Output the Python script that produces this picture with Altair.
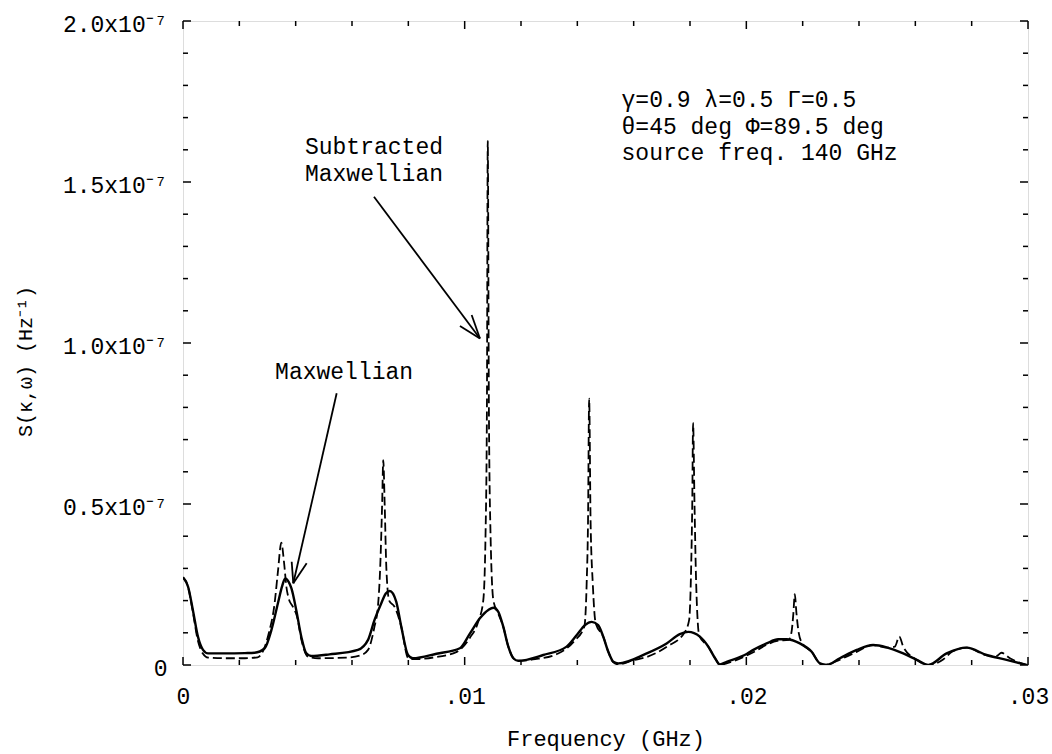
import altair as alt
import pandas as pd

# ---------------- data (y in units of 1e-7 Hz^-1, x in GHz) ----------------
maxw_x = [0.0, 0.00018, 0.00035, 0.00053, 0.00071, 0.00089, 0.0015, 0.0022, 0.00254, 0.0029,
          0.00314, 0.00337, 0.00352, 0.00363, 0.00375, 0.00385, 0.00402, 0.0042, 0.00438, 0.00455,
          0.0052, 0.00621, 0.00657, 0.0068, 0.00704, 0.0072, 0.00734, 0.00757, 0.00775, 0.00799,
          0.00816, 0.0090, 0.00983, 0.01019, 0.01054, 0.01084, 0.01102, 0.01119, 0.01137, 0.01155,
          0.01173, 0.0119, 0.01279, 0.01362, 0.01398, 0.01427, 0.01451, 0.01474, 0.01492, 0.0151,
          0.01528, 0.01545, 0.01646, 0.01717, 0.01764, 0.01794, 0.01835, 0.01865, 0.01889, 0.01906,
          0.0193, 0.02001, 0.02025, 0.02072, 0.02113, 0.02143, 0.0219, 0.02232, 0.02261, 0.02285,
          0.02332, 0.02392, 0.0245, 0.02498, 0.02557, 0.02605, 0.02646, 0.02711, 0.02782, 0.02853,
          0.02924, 0.02995]
maxw_y = [0.272, 0.243, 0.171, 0.088, 0.047, 0.036, 0.036, 0.037, 0.038, 0.052,
          0.109, 0.192, 0.245, 0.269, 0.258, 0.238, 0.171, 0.088, 0.036, 0.028,
          0.033, 0.047, 0.078, 0.14, 0.192, 0.222, 0.23, 0.197, 0.119, 0.031,
          0.021, 0.035, 0.052, 0.098, 0.145, 0.171, 0.178, 0.166, 0.119, 0.057,
          0.021, 0.013, 0.031, 0.057, 0.093, 0.124, 0.134, 0.124, 0.088, 0.041,
          0.01, 0.005, 0.036, 0.067, 0.096, 0.103, 0.088, 0.057, 0.021, 0.002,
          0.01, 0.034, 0.047, 0.067, 0.08, 0.08, 0.067, 0.041, 0.005, 0.0,
          0.021, 0.047, 0.062, 0.055, 0.036, 0.016, 0.0, 0.036, 0.054, 0.031,
          0.016, 0.0]

sub_x = [0.0, 0.00018, 0.00035, 0.00053, 0.00071, 0.00089, 0.0015, 0.0022, 0.00265, 0.00285,
         0.00305, 0.00325, 0.00337, 0.00349, 0.00359, 0.00367, 0.00375, 0.0039, 0.00405, 0.0042,
         0.00444, 0.0048, 0.0058, 0.0063, 0.00657, 0.0068, 0.00692, 0.0070, 0.00707, 0.00711,
         0.00716, 0.00722, 0.00732, 0.00751, 0.00775, 0.00799, 0.0082, 0.0090, 0.0097, 0.01019,
         0.01048, 0.01066, 0.01074, 0.01079, 0.01082, 0.01086, 0.01092, 0.01102, 0.01119, 0.01137,
         0.01155, 0.01173, 0.0119, 0.0125, 0.0133, 0.0139, 0.01425, 0.01433, 0.01438, 0.01442,
         0.01447, 0.01455, 0.01465, 0.01492, 0.0151, 0.01528, 0.01545, 0.0160, 0.0165, 0.0172,
         0.0178, 0.01797, 0.01804, 0.01808, 0.01811, 0.01816, 0.01822, 0.01833, 0.01865, 0.01889,
         0.01906, 0.0193, 0.0199, 0.0203, 0.0207, 0.0211, 0.0215, 0.0216, 0.02167, 0.02172,
         0.02178, 0.02186, 0.0220, 0.02232, 0.02261, 0.0228, 0.0232, 0.0239, 0.0245, 0.0250,
         0.02527, 0.02543, 0.02557, 0.02605, 0.02646, 0.0270, 0.0273, 0.02782, 0.0285, 0.02888,
         0.02906, 0.02936, 0.02995]
sub_y = [0.272, 0.243, 0.165, 0.075, 0.035, 0.023, 0.021, 0.021, 0.024, 0.045,
         0.10, 0.19, 0.29, 0.38, 0.316, 0.243, 0.207, 0.181, 0.15, 0.08,
         0.026, 0.021, 0.023, 0.03, 0.047, 0.12, 0.181, 0.30, 0.50, 0.636,
         0.50, 0.30, 0.20, 0.181, 0.119, 0.022, 0.018, 0.025, 0.040, 0.085,
         0.134, 0.20, 0.40, 0.80, 1.628, 0.80, 0.40, 0.20, 0.16, 0.119,
         0.057, 0.021, 0.013, 0.018, 0.035, 0.075, 0.12, 0.25, 0.45, 0.827,
         0.45, 0.25, 0.13, 0.088, 0.041, 0.008, 0.002, 0.015, 0.026, 0.058,
         0.10, 0.14, 0.30, 0.50, 0.751, 0.50, 0.25, 0.09, 0.057, 0.021,
         0.0, 0.005, 0.025, 0.042, 0.062, 0.075, 0.078, 0.10, 0.16, 0.22,
         0.16, 0.10, 0.065, 0.041, 0.005, 0.0, 0.012, 0.040, 0.062, 0.054,
         0.057, 0.088, 0.057, 0.016, 0.0, 0.018, 0.041, 0.054, 0.031, 0.028,
         0.038, 0.021, 0.0]

x_major = [0.0, 0.01, 0.02, 0.03]
x_labels = ["0", ".01", ".02", ".03"]
x_minor = [0.002, 0.004, 0.006, 0.008, 0.012, 0.014, 0.016, 0.018, 0.022, 0.024, 0.026, 0.028]
y_major = [0.0, 0.5, 1.0, 1.5, 2.0]
y_labels = ["0", "0.5x10⁻⁷", "1.0x10⁻⁷", "1.5x10⁻⁷", "2.0x10⁻⁷"]
y_minor = [0.1, 0.2, 0.3, 0.4, 0.6, 0.7, 0.8, 0.9, 1.1, 1.2, 1.3, 1.4, 1.6, 1.7, 1.8, 1.9]

note_lines = ["γ=0.9 λ=0.5 Γ=0.5", "θ=45 deg Φ=89.5 deg", "source freq. 140 GHz"]
note_x = [0.01557, 0.01557, 0.01557]
note_y = [1.755, 1.672, 1.589]

label_text = ["Subtracted", "Maxwellian", "Maxwellian"]
label_x = [0.00433, 0.00433, 0.00327]
label_y = [1.609, 1.525, 0.911]

# arrows: shaft + two head wings each
arrow_x1 = [0.00678, 0.010543, 0.010543, 0.005456, 0.003916, 0.003916]
arrow_y1 = [1.4543, 1.0140, 1.0140, 0.8438, 0.2537, 0.2537]
arrow_x2 = [0.010543, 0.009833, 0.010248, 0.003916, 0.003859, 0.004391]
arrow_y2 = [1.0140, 1.0528, 1.0870, 0.2537, 0.3208, 0.3158]

# ---------------- chart ----------------
W, H = 845, 644
FONT = "Liberation Mono"


def label_expr(vals, labs):
    expr = "''"
    for v, l in reversed(list(zip(vals, labs))):
        expr = f"abs(datum.value - {v}) < 1e-9 ? '{l}' : ({expr})"
    return expr


xs = alt.Scale(domain=[0, 0.03], nice=False, zero=False)
ys = alt.Scale(domain=[0, 2.0], nice=False, zero=False)

xaxis = alt.Axis(values=x_major, labelExpr=label_expr(x_major, x_labels), ticks=False,
                 domain=False, grid=False, labelFont=FONT, labelFontSize=23, labelPadding=20,
                 labelFlush=False, labelColor="black", title="Frequency (GHz)", titleFont=FONT,
                 titleFontSize=22, titleFontWeight="normal", titleColor="black", titleY=80,
                 titleBaseline="alphabetic")
yaxis = alt.Axis(values=y_major, labelExpr=label_expr(y_major, y_labels), ticks=False,
                 domain=False, grid=False, labelFont=FONT, labelFontSize=23, labelPadding=16,
                 labelFlush=False, labelColor="black", labelBaseline="middle", labelOffset=3,
                 title="S(κ,ω)  (Hz⁻¹)", titleFont=FONT, titleFontSize=20,
                 titleFontWeight="normal", titleColor="black", titleX=-158, titleY=340,
                 titleAngle=270, titleAlign="center", titleBaseline="middle")


def X(f):
    return alt.X(f, type="quantitative", scale=xs, axis=xaxis)


def Y(f):
    return alt.Y(f, type="quantitative", scale=ys, axis=yaxis)


df_m = pd.DataFrame({"x": maxw_x, "y": maxw_y})
df_s = pd.DataFrame({"x": sub_x, "y": sub_y})

solid = alt.Chart(df_m).mark_line(color="black", strokeWidth=2.4, clip=True,
                                  interpolate="monotone").encode(x=X("x"), y=Y("y"))
dashed = alt.Chart(df_s).mark_line(color="black", strokeWidth=1.8, strokeDash=[9, 4],
                                   clip=True, interpolate="monotone").encode(x=X("x"), y=Y("y"))

layers = [dashed, solid]


def tick_layer(vals, side, length):
    d = pd.DataFrame({"v": vals})
    m = alt.Chart(d).mark_rule(color="black", strokeWidth=1.5)
    if side == "left":
        return m.encode(y=Y("v"), x=alt.value(0), x2=alt.value(length))
    if side == "right":
        return m.encode(y=Y("v"), x=alt.value(W - length), x2=alt.value(W))
    if side == "bottom":
        return m.encode(x=X("v"), y=alt.value(H - length), y2=alt.value(H))
    return m.encode(x=X("v"), y=alt.value(0), y2=alt.value(length))


for side in ["left", "right"]:
    layers.append(tick_layer(y_major, side, 8))
    layers.append(tick_layer(y_minor, side, 5))
for side in ["bottom", "top"]:
    layers.append(tick_layer(x_major, side, 8))
    layers.append(tick_layer(x_minor, side, 5))

df_arrow = pd.DataFrame({"x1": arrow_x1, "y1": arrow_y1, "x2": arrow_x2, "y2": arrow_y2})
arrows = alt.Chart(df_arrow).mark_rule(color="black", strokeWidth=1.8).encode(
    x=X("x1"), y=Y("y1"), x2=alt.X2("x2"), y2=alt.Y2("y2"))
layers.append(arrows)

df_lab = pd.DataFrame({"x": label_x, "y": label_y, "t": label_text})
labels = alt.Chart(df_lab).mark_text(align="left", baseline="middle", font=FONT, fontSize=23,
                                     color="black").encode(x=X("x"), y=Y("y"), text="t:N")
layers.append(labels)

df_note = pd.DataFrame({"x": note_x, "y": note_y, "t": note_lines})
notes = alt.Chart(df_note).mark_text(align="left", baseline="middle", font=FONT, fontSize=23,
                                     color="black").encode(x=X("x"), y=Y("y"), text="t:N")
layers.append(notes)

chart = alt.layer(*layers).properties(
    width=W, height=H, autosize="none",
    padding={"left": 183, "top": 21, "right": 1052 - 183 - W, "bottom": 754 - 21 - H},
    background="white",
).configure_view(stroke="black", strokeWidth=2.4).configure(font=FONT)

chart.save("out.html", embed_options={"renderer": "svg", "actions": False})
